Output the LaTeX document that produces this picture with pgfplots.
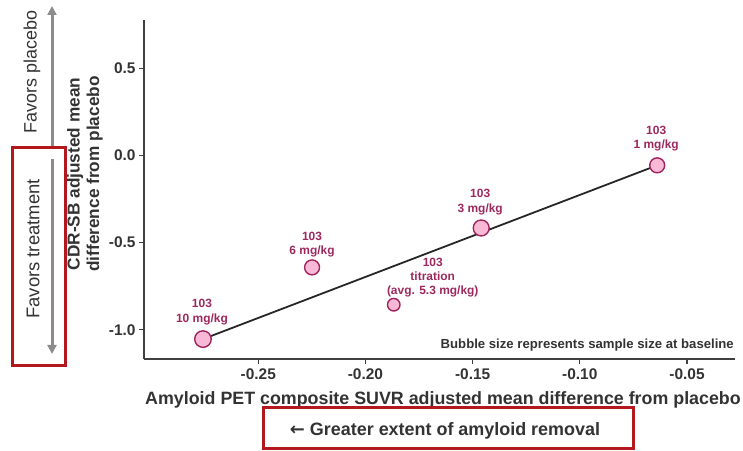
\documentclass[border=0pt]{standalone}
\usepackage{pgfplots}
\pgfplotsset{compat=1.18}
\usepackage{pgfplotstable}
\usepackage{fontspec}
\setmainfont{Liberation Sans}
\newfontfamily\djv{DejaVu Sans}
\usetikzlibrary{arrows.meta,calc}
\definecolor{bubfill}{RGB}{249,184,214}
\definecolor{bubdraw}{RGB}{160,36,92}
\definecolor{labcol}{RGB}{156,40,94}
\definecolor{axcol}{RGB}{64,64,64}
\definecolor{txtcol}{RGB}{51,51,51}
\definecolor{boxred}{RGB}{178,24,30}
\definecolor{arrgray}{RGB}{140,140,140}

\pgfplotstableread{
x y r
-0.2758 -1.053 8.3
-0.2249 -0.642 7.5
-0.1868 -0.856 6.3
-0.1460 -0.416 8.0
-0.0639 -0.057 7.5
}\bubbles

\pgfplotstableread{
x y
-0.2758 -1.053
-0.0639 -0.057
}\fitline

\begin{document}
\begin{tikzpicture}[x=1bp,y=1bp]
\path[use as bounding box] (0,0) rectangle (743,451);
\begin{axis}[
  at={(144bp,92bp)}, anchor=south west,
  scale only axis, width=591bp, height=339bp,
  xmin=-0.3033, xmax=-0.0276,
  ymin=-1.167, ymax=0.776,
  axis lines=left,
  axis line style={-, axcol, line width=1.2pt},
  tick style={axcol, line width=1.2pt},
  tick align=outside,
  major tick length=5bp,
  xtick={-0.25,-0.20,-0.15,-0.10,-0.05},
  xticklabels={-0.25,-0.20,-0.15,-0.10,-0.05},
  ytick={-1,-0.5,0,0.5},
  yticklabels={-1.0,-0.5,0.0,0.5},
  ticklabel style={font=\fontsize{15.5}{17}\selectfont\bfseries, text=txtcol},
  xticklabel style={yshift=-1bp},
  clip=false,
]
\addplot[no marks, color=black!85, line width=1.8pt] table {\fitline};
\addplot[scatter, only marks, mark=*,
  scatter/use mapped color={draw=bubdraw, fill=bubfill},
  visualization depends on={\thisrow{r} \as \rr},
  scatter/@pre marker code/.append style={/tikz/mark size=\rr},
  mark options={fill=bubfill, draw=bubdraw, line width=1.4pt}]
  table[x=x, y=y] {\bubbles};
\begin{scope}[every node/.style={text=labcol, font=\fontsize{12}{14.5}\selectfont\bfseries, align=center, inner sep=0pt}]
\node[anchor=south] at ($(axis cs:-0.2758,-1.053)+(-1bp,14bp)$) {103\\10 mg/kg};
\node[anchor=south] at ($(axis cs:-0.2249,-0.642)+(0bp,10bp)$) {103\\6 mg/kg};
\node[anchor=south] at ($(axis cs:-0.1868,-0.856)+(39bp,7bp)$) {103\\titration\\(avg. 5.3 mg/kg)};
\node[anchor=south] at ($(axis cs:-0.1460,-0.416)+(-1bp,13bp)$) {103\\3 mg/kg};
\node[anchor=south] at ($(axis cs:-0.0639,-0.057)+(-1bp,14bp)$) {103\\1 mg/kg};
\end{scope}
\end{axis}
% bubble note
\node[anchor=east, text=txtcol, font=\fontsize{13.2}{15}\selectfont\bfseries, inner sep=0pt] at (734,106) {Bubble size represents sample size at baseline};
% y label
\node[rotate=90, align=center, text=txtcol, font=\fontsize{17.3}{19.5}\selectfont\bfseries, inner sep=0pt] at (85,277) {CDR-SB adjusted mean\\difference from placebo};
% x label
\node[text=txtcol, font=\fontsize{17.9}{19}\selectfont\bfseries, inner sep=0pt] at (443,51) {Amyloid PET composite SUVR adjusted mean difference from placebo};
% bottom red box
\draw[boxred, line width=3bp] (263,43) rectangle (633,2);
\node[text=txtcol, font=\fontsize{18}{19}\selectfont\bfseries, inner sep=0pt] at (445,20) {{\djv ←} Greater extent of amyloid removal};
% gray arrows
\draw[arrgray, line width=3bp, -{Triangle[width=9bp,length=9bp]}] (52,304) -- (52,445);
\draw[arrgray, line width=3bp, -{Triangle[width=9bp,length=9bp]}] (52,292) -- (52,97);
% red left box
\draw[boxred, line width=3bp] (12,303) rectangle (65,85);
\node[rotate=90, text=txtcol, font=\fontsize{18}{19}\selectfont, inner sep=0pt] at (32,379) {Favors placebo};
\node[rotate=90, text=txtcol, font=\fontsize{18.5}{19}\selectfont, inner sep=0pt] at (33,202) {Favors treatment};
\end{tikzpicture}
\end{document}
